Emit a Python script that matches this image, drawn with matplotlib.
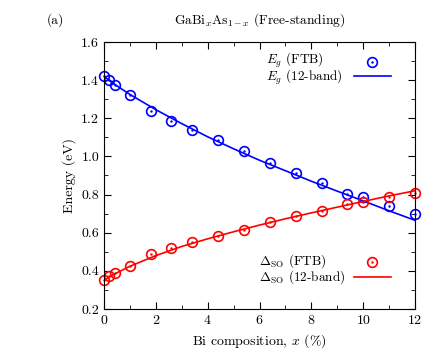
#!/usr/bin/env python3

import numpy as np
from matplotlib import pyplot as plt
from matplotlib.ticker import MultipleLocator

plt.rcParams['font.family'] = 'cmr10'
plt.rcParams['mathtext.fontset'] = 'cm'
plt.rcParams['axes.formatter.use_mathtext'] = True

# FTB points
x_ftb = [0, 0.2, 0.41, 0.99, 1.8, 2.6, 3.41, 4.4, 5.4, 6.41, 7.4, 8.4, 9.39, 10.0, 11.0, 12.0]
eg_ftb = [1.422, 1.399, 1.373, 1.320, 1.238, 1.184, 1.137, 1.085, 1.027, 0.966,
          0.912, 0.862, 0.805, 0.787, 0.739, 0.697]
so_ftb = [0.352, 0.373, 0.390, 0.427, 0.487, 0.521, 0.551, 0.581, 0.616, 0.655,
          0.688, 0.712, 0.749, 0.759, 0.787, 0.807]

# 12-band curves
x_kp = [0, 0.25, 0.5, 1, 2, 3, 4, 5, 6, 7, 8, 9, 10, 11, 12]
eg_kp = [1.420, 1.394, 1.370, 1.325, 1.245, 1.172, 1.103, 1.040, 0.980, 0.925,
         0.870, 0.818, 0.767, 0.715, 0.665]
so_kp = [0.350, 0.372, 0.390, 0.424, 0.480, 0.528, 0.568, 0.605, 0.640, 0.673,
         0.704, 0.734, 0.764, 0.793, 0.820]

blue, red = '#0000ff', '#ff0000'

def key(ax, xt, y1, y2, color, lab1, lab2):
    # gnuplot-like key: text left aligned, sample on the right
    tr = ax.transAxes
    ax.text(xt, (y1 + y2) / 2, lab1 + '\n' + lab2, transform=tr, fontsize=9.5,
            va='center', ha='left', linespacing=0.85)
    ax.plot([0.862], [y1], 'o', ms=7, mfc='none', mec=color, mew=1.2, transform=tr)
    ax.plot([0.862], [y1], '.', ms=1.5, color=color, transform=tr)
    ax.plot([0.804, 0.923], [y2, y2], color=color, lw=1.2, transform=tr)

def main():
    fig = plt.figure(figsize=(4.4, 3.54), dpi=100)
    ax = fig.add_axes([104/440, 1 - 309/354, 311/440, 267/354])

    ax.plot(x_kp, eg_kp, color=blue, lw=1.2)
    ax.plot(x_ftb, eg_ftb, 'o', ms=7, mfc='none', mec=blue, mew=1.2, clip_on=False)
    ax.plot(x_ftb, eg_ftb, '.', ms=1.5, color=blue, clip_on=False)
    ax.plot(x_kp, so_kp, color=red, lw=1.2)
    ax.plot(x_ftb, so_ftb, 'o', ms=7, mfc='none', mec=red, mew=1.2, clip_on=False)
    ax.plot(x_ftb, so_ftb, '.', ms=1.5, color=red, clip_on=False)

    ax.set_xlim(0, 12)
    ax.set_ylim(0.2, 1.6)
    ax.xaxis.set_major_locator(MultipleLocator(2))
    ax.xaxis.set_minor_locator(MultipleLocator(1))
    ax.yaxis.set_major_locator(MultipleLocator(0.2))
    ax.yaxis.set_minor_locator(MultipleLocator(0.1))
    ax.yaxis.set_major_formatter(plt.FuncFormatter(lambda v, p: '%.1f' % v))
    ax.tick_params(which='both', direction='in', top=True, right=True, labelsize=10)
    ax.tick_params(which='major', length=5)
    ax.tick_params(which='minor', length=3)
    for s in ax.spines.values():
        s.set_linewidth(0.8)

    ax.set_xlabel(r'Bi composition, $x$ (%)', fontsize=10)
    ax.set_ylabel('Energy (eV)', fontsize=10)
    ax.set_title(r'GaBi$_x$As$_{1-x}$ (Free-standing)', fontsize=9.7, pad=13)
    fig.text(55/440, 1 - 20/354, '(a)', fontsize=9.7, va='center', ha='center')

    key(ax, 0.521, 0.926, 0.874, blue, r'$E_g$ (FTB)', r'$E_g$ (12-band)')
    key(ax, 0.498, 0.176, 0.121, red, r'$\Delta_{\mathrm{SO}}$ (FTB)',
        r'$\Delta_{\mathrm{SO}}$ (12-band)')

    fig.savefig('out.png', dpi=100)

if __name__ == '__main__':
    main()
